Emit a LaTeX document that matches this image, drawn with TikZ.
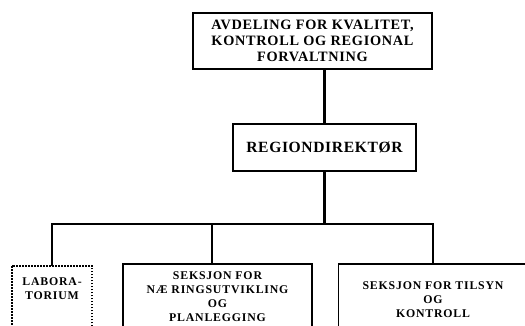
\documentclass[tikz,border=0pt]{standalone}
\usepackage{fontspec}
\setmainfont{Liberation Serif}
\newfontfamily\avdfont[LetterSpace=5]{Liberation Serif}
\newfontfamily\dirfont[LetterSpace=4]{Liberation Serif}
\newfontfamily\sekfont[LetterSpace=7]{Liberation Serif}

\begin{document}
\begin{tikzpicture}[x=1pt,y=-1pt,
  box/.style={draw, line width=1.6pt, align=center, inner sep=0pt},
  avd/.style={box, minimum width=239pt, minimum height=56pt,
    font=\avdfont\bfseries\fontsize{14.3}{16.3}\selectfont},
  dir/.style={box, minimum width=183pt, minimum height=47pt,
    font=\dirfont\bfseries\fontsize{15.6}{18}\selectfont},
  sek/.style={box, minimum width=189pt,
    font=\sekfont\bfseries\fontsize{11.8}{14}\selectfont},
  lab/.style={sek, draw=none, minimum width=79pt, inner ysep=11pt, text depth=60pt,
    append after command={\pgfextra{\draw[line width=2pt, dash pattern=on 1.5pt off 1.5pt]
      (\tikzlastnode.north west) rectangle (\tikzlastnode.south east);}}},
  link/.style={line width=2.2pt}]
\useasboundingbox (0,0) rectangle (525,325);

\node (AVD) [avd] at (312.5,41) {AVDELING FOR KVALITET,\\KONTROLL OG REGIONAL\\FORVALTNING};
\node (DIR) [dir] at (324.5,147.5) {REGIONDIREKTØR};
\node (LAB) [lab, anchor=north] at (52,266) {LABORA-\\TORIUM};
\node (NAER) [sek, minimum height=65pt] at (217.5,296.5) {SEKSJON FOR\\NÆ RINGSUTVIKLING\\OG\\PLANLEGGING};
\node (TIL) [sek, minimum height=71pt] at (433,299.5) {SEKSJON FOR TILSYN\\OG\\KONTROLL};

\coordinate (bus) at (0,224);
\coordinate (busM) at (212,224);

%Lines:
\draw[link] (DIR.north) -- (DIR.north |- AVD.south);
\draw[link] (DIR.south) -- (DIR.south |- bus);
\draw[link] (LAB.north) |- (bus -| TIL.north) -- (TIL.north);
\draw[link] (busM) -- (busM |- NAER.north);

\end{tikzpicture}
\end{document}
